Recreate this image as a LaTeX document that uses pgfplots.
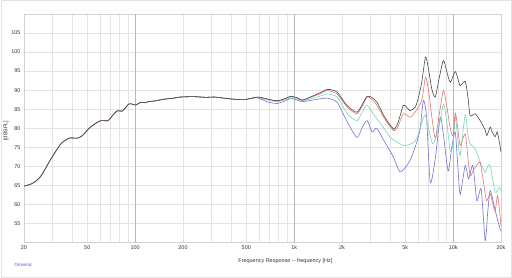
\documentclass[border=0pt]{standalone}
\usepackage{pgfplots}
\pgfplotsset{compat=1.18}
\usepackage{fontspec}
\setmainfont{Liberation Sans}
\definecolor{cblack}{HTML}{464646}
\definecolor{cred}{HTML}{E47474}
\definecolor{cteal}{HTML}{74D6BA}
\definecolor{cblue}{HTML}{7070DA}
\definecolor{gridc}{HTML}{E4E4E4}
\definecolor{majc}{HTML}{B8B8B8}
\begin{document}
\begin{tikzpicture}[x=1bp,y=1bp]
\draw[draw=gray!22, line width=0.8bp] (0.4,0.4) rectangle (511.6,277.6);
\node[anchor=west, text=blue!70, font=\fontsize{4.5}{5}\selectfont] at (10,13) {Omnimic};
\begin{axis}[at={(23bp,35bp)}, anchor=south west, scale only axis,
  width=478bp, height=229bp,
  xmode=log, xmin=20, xmax=20000, ymin=50, ymax=110,
  xtick={20,50,100,200,500,1000,2000,5000,10000,20000},
  xticklabels={20,50,100,200,500,1k,2k,5k,10k,20k},
  minor xtick={30,40,60,70,80,90,300,400,600,700,800,900,3000,4000,6000,7000,8000,9000},
  ytick={55,60,...,105},
  grid=both,
  major grid style={draw=gridc, line width=0.5bp},
  minor grid style={draw=gridc, line width=0.5bp},
  extra x ticks={100,1000,10000}, extra x tick labels={},
  extra x tick style={grid=major, major grid style={draw=majc, line width=0.6bp}},
  major tick length=0pt, minor tick length=0pt,
  axis line style={draw=gray!35, line width=0.6bp},
  tick label style={font=\fontsize{5.5}{6}\selectfont, text=black!80},
  /pgf/number format/assume math mode=true,
  xlabel={Frequency Response -{}- frequency [Hz]},
  xlabel style={font=\fontsize{5.5}{6}\selectfont, text=black!80, at={(axis description cs:0.548,-0.083)}, anchor=center},
  ylabel={[dBSPL]},
  ylabel style={font=\fontsize{5.5}{6}\selectfont, text=black!80, at={(axis description cs:-0.038,0.49)}, anchor=center, rotate=0},
  every axis plot/.append style={line width=0.6bp, smooth, tension=0.4},
]
% blue
\addplot[cblue] coordinates {
(20,64.8)(22,65.3)(23.2,65.8)(25.6,67.5)(29.5,71.9)(34.1,75.9)(38.5,77.4)(43.4,77.4)(46.7,78.1)(51.4,80.0)(56,81.2)(60.9,82.0)(67.6,82.0)(72,83.3)(77.4,84.6)(83.2,84.5)(91.6,86.4)(101,86.1)(108,86.8)(115,86.7)(122,87.0)(135,87.2)(150,87.6)(175,87.9)(193,88.2)(234,88.3)(280,88.1)(313,88.2)(399,87.7)(484,87.5)(586,88.0)
(677,86.9)(781,86.5)(880,87.2)(950,87.8)(1046,87.4)(1122,87.0)(1266,87.3)(1450,87.7)(1612,87.9)(1864,86.8)(2160,81.6)(2484,77.6)(2700,80.5)(2880,82.0)(3093,79.0)(3300,80.0)(3700,76.5)(4200,72.5)(4610,68.6)(5000,69.7)(5400,71.9)(5900,76.3)(6200,79.8)(6500,87.3)(6800,83)(7176,65.8)(7716,72)(8294,82.9)(8700,78)(9300,68.8)(9800,75)(10304,79)(10700,70)(11076,62.7)(11906,70.2)(12500,66.7)(13300,70.2)(14100,61.0)(15000,64.0)(15900,50.5)(16500,58)(17092,63.6)(18200,59.2)(19000,56)(19745,53.5)(20000,53)
};
% teal
\addplot[cteal] coordinates {
(20,64.8)(22,65.3)(23.2,65.8)(25.6,67.5)(29.5,71.9)(34.1,75.9)(38.5,77.4)(43.4,77.4)(46.7,78.1)(51.4,80.0)(56,81.2)(60.9,82.0)(67.6,82.0)(72,83.3)(77.4,84.6)(83.2,84.5)(91.6,86.4)(101,86.1)(108,86.8)(115,86.7)(122,87.0)(135,87.2)(150,87.6)(175,87.9)(193,88.2)(234,88.3)(280,88.1)(313,88.2)(399,87.7)(484,87.5)(586,88.1)
(677,87.4)(781,87.0)(880,87.5)(950,88.0)(1046,87.6)(1122,87.1)(1266,87.7)(1450,88.4)(1612,89.0)(1864,88.2)(2160,83.8)(2484,82.0)(2700,84.5)(2880,86.0)(3200,83.3)(3600,80.5)(4027,77.6)(4640,75.9)(5000,75.4)(5400,75.9)(5700,76.3)(6000,78.1)(6300,81)(6678,83.5)(7000,80)(7400,76)(7716,77)(8294,82)(8700,86.4)(9100,82)(9584,74)(10000,76)(10304,83.2)(10700,77)(11076,73)(11906,83.5)(12400,78)(12798,75.9)(13758,74.6)(14790,71.1)(15900,68.4)(16500,70)(17092,70.2)(18372,63.2)(19500,64.5)(20000,63.6)
};
% red
\addplot[cred] coordinates {
(20,64.8)(22,65.3)(23.2,65.8)(25.6,67.5)(29.5,71.9)(34.1,75.9)(38.5,77.4)(43.4,77.4)(46.7,78.1)(51.4,80.0)(56,81.2)(60.9,82.0)(67.6,82.0)(72,83.3)(77.4,84.6)(83.2,84.5)(91.6,86.4)(101,86.1)(108,86.8)(115,86.7)(122,87.0)(135,87.2)(150,87.6)(175,87.9)(193,88.2)(234,88.3)(280,88.1)(313,88.2)(399,87.7)(484,87.5)(586,88.1)
(677,87.6)(781,87.2)(880,87.8)(950,88.3)(1046,87.9)(1122,87.3)(1266,88.1)(1450,89.0)(1612,89.9)(1864,89.0)(2160,85.5)(2484,83.8)(2700,86.0)(2880,88.2)(3100,87.5)(3322,86.0)(3700,82.5)(4224,79.4)(4500,80.5)(4860,83.8)(5360,82.9)(5760,84.2)(6340,87.3)(6700,93.4)(7000,90)(7340,83)(7716,77.5)(8200,84)(8680,89.9)(9100,86)(9584,80)(10000,78)(10304,84)(10700,80)(11076,75.5)(11906,78.5)(12400,72)(12798,67.5)(13400,69)(14200,70.5)(14790,71)(15500,66)(16200,61.0)(17092,62.7)(17800,60)(18372,58.3)(19000,62.3)(19500,59)(20000,54.4)
};
% black
\addplot[cblack] coordinates {
(20,64.8)(22,65.3)(23.2,65.8)(25.6,67.5)(29.5,71.9)(34.1,75.9)(38.5,77.4)(43.4,77.4)(46.7,78.1)(51.4,80.0)(56,81.2)(60.9,82.0)(67.6,82.0)(72,83.3)(77.4,84.6)(83.2,84.5)(91.6,86.4)(101,86.1)(108,86.8)(115,86.7)(122,87.0)(135,87.2)(150,87.6)(175,87.9)(193,88.2)(234,88.3)(280,88.1)(313,88.2)(399,87.7)(484,87.5)(586,88.2)
(677,87.7)(781,87.2)(880,87.8)(950,88.4)(1046,88.0)(1122,87.4)(1266,88.2)(1450,89.3)(1612,90.2)(1750,90.0)(1864,89.5)(2160,85.9)(2484,84.2)(2700,86.5)(2880,88.4)(3100,88.0)(3322,86.8)(3700,83.0)(4224,79.8)(4500,81.5)(4860,86.0)(5100,85.5)(5360,84.6)(5760,85.5)(6000,87.5)(6340,92.0)(6700,98.7)(7000,95.5)(7340,90.3)(7716,88.2)(8200,93.5)(8680,97.8)(9100,95.0)(9584,92.1)(10304,94.9)(10700,93.0)(11076,91.2)(11906,92.3)(12400,88)(12798,83.3)(13758,83.8)(14790,82.0)(15900,79.5)(16300,78.1)(17092,80.3)(17500,79.2)(18372,77.8)(18900,79.0)(19500,76.5)(20000,73.7)
};
\end{axis}
\end{tikzpicture}
\end{document}
